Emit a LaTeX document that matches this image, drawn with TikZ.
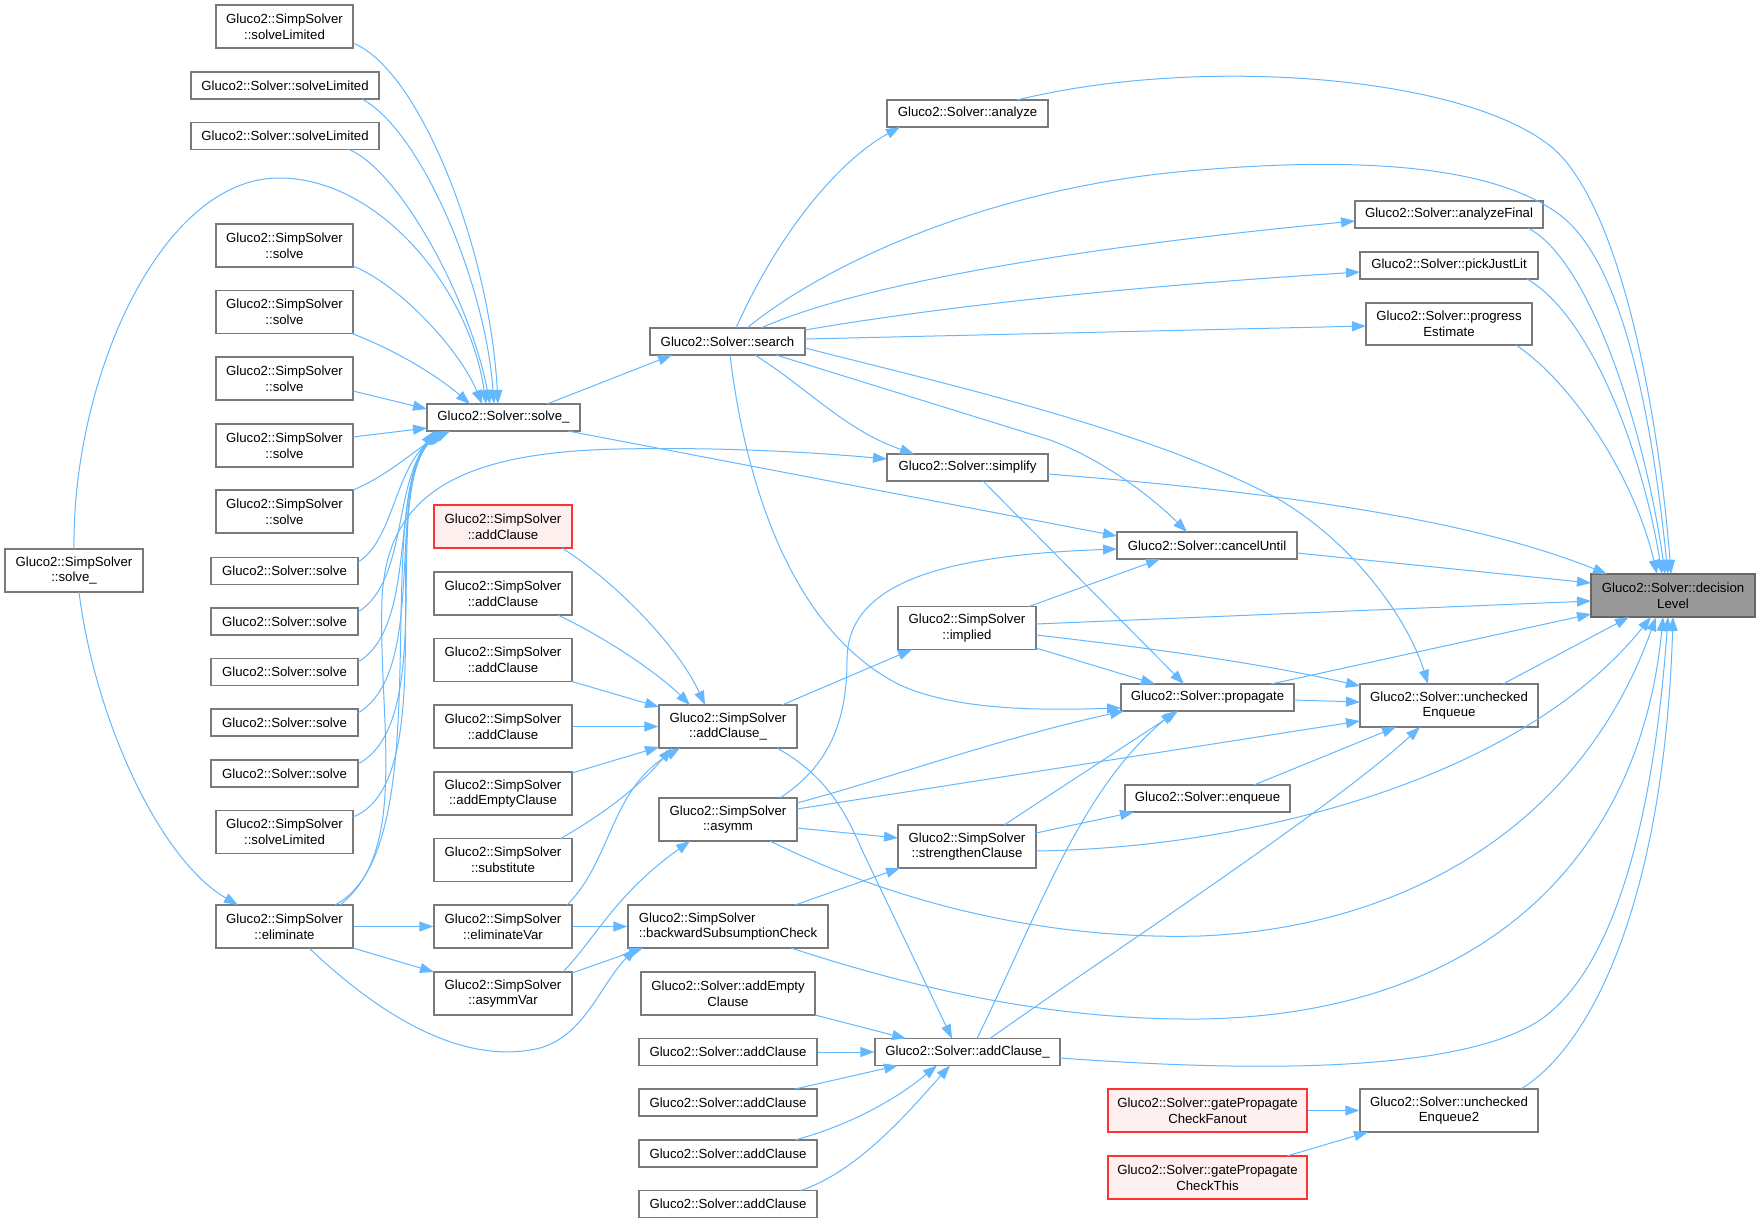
\documentclass[tikz,border=0pt]{standalone}
\usepackage{fontspec}
\setmainfont{Liberation Sans}
\usetikzlibrary{arrows.meta}
\definecolor{edgec}{HTML}{63B8FF}
\definecolor{bordc}{HTML}{7A7A7A}
\definecolor{redb}{HTML}{FF3333}
\definecolor{redf}{HTML}{FFF0F0}
\definecolor{dlf}{HTML}{999999}
\definecolor{dlb}{HTML}{666666}
\newcommand{\gfont}{\fontsize{13.2pt}{15.7pt}\selectfont}
\begin{document}
\begin{tikzpicture}[x=1pt,y=-1pt,
  box/.style={draw=bordc, fill=white, line width=1.3pt, inner sep=0pt, align=center, font=\gfont},
  redbox/.style={box, draw=redb, fill=redf},
  dlbox/.style={box, draw=dlb, fill=dlf},
  two/.style={minimum height=43pt},
  one/.style={minimum height=27pt},
  e/.style={draw=edgec, line width=1pt, -{Triangle[length=14pt,width=10pt]}}]
\fill[white] (0,0) rectangle (1760,1223);
\useasboundingbox (0,0) rectangle (1760,1223);
% left
\node[box,two,minimum width=138pt] (ssSolveU) at (74,570.5) {Gluco2::SimpSolver\\::solve\_};
% column 2
\node[box,two,minimum width=137pt] (ssSL1) at (284.5,26.5) {Gluco2::SimpSolver\\::solveLimited};
\node[box,one,minimum width=188pt] (sSL1) at (285,85.5) {Gluco2::Solver::solveLimited};
\node[box,one,minimum width=188pt] (sSL2) at (285,136) {Gluco2::Solver::solveLimited};
\node[box,two,minimum width=137pt] (ssS1) at (284.5,245.5) {Gluco2::SimpSolver\\::solve};
\node[box,two,minimum width=137pt] (ssS2) at (284.5,312) {Gluco2::SimpSolver\\::solve};
\node[box,two,minimum width=137pt] (ssS3) at (284.5,378.5) {Gluco2::SimpSolver\\::solve};
\node[box,two,minimum width=137pt] (ssS4) at (284.5,445.5) {Gluco2::SimpSolver\\::solve};
\node[box,two,minimum width=137pt] (ssS5) at (284.5,511.5) {Gluco2::SimpSolver\\::solve};
\node[box,one,minimum width=147pt] (sS1) at (284.5,571) {Gluco2::Solver::solve};
\node[box,one,minimum width=147pt] (sS2) at (284.5,621.5) {Gluco2::Solver::solve};
\node[box,one,minimum width=147pt] (sS3) at (284.5,672) {Gluco2::Solver::solve};
\node[box,one,minimum width=147pt] (sS4) at (284.5,722.5) {Gluco2::Solver::solve};
\node[box,one,minimum width=147pt] (sS5) at (284.5,773.5) {Gluco2::Solver::solve};
\node[box,two,minimum width=137pt] (ssSL2) at (284.5,832) {Gluco2::SimpSolver\\::solveLimited};
\node[box,two,minimum width=137pt] (ssElim) at (284.5,926.5) {Gluco2::SimpSolver\\::eliminate};
% column 3
\node[box,one,minimum width=153pt] (sSolveU) at (503.5,417.5) {Gluco2::Solver::solve\_};
\node[redbox,two,minimum width=138pt] (ssACr) at (503,526.5) {Gluco2::SimpSolver\\::addClause};
\node[box,two,minimum width=138pt] (ssAC2) at (503,593.5) {Gluco2::SimpSolver\\::addClause};
\node[box,two,minimum width=138pt] (ssAC3) at (503,660) {Gluco2::SimpSolver\\::addClause};
\node[box,two,minimum width=138pt] (ssAC4) at (503,726.5) {Gluco2::SimpSolver\\::addClause};
\node[box,two,minimum width=138pt] (ssAEC) at (503,793.5) {Gluco2::SimpSolver\\::addEmptyClause};
\node[box,two,minimum width=138pt] (ssSub) at (503,860) {Gluco2::SimpSolver\\::substitute};
\node[box,two,minimum width=138pt] (ssEV) at (503,926.5) {Gluco2::SimpSolver\\::eliminateVar};
\node[box,two,minimum width=138pt] (ssAV) at (503,993.5) {Gluco2::SimpSolver\\::asymmVar};
% column 4
\node[box,one,minimum width=155pt] (sSearch) at (727.5,341.5) {Gluco2::Solver::search};
\node[box,two,minimum width=138pt] (ssACU) at (728,726.5) {Gluco2::SimpSolver\\::addClause\_};
\node[box,two,minimum width=138pt] (ssAsym) at (728,819.5) {Gluco2::SimpSolver\\::asymm};
\node[box,two,minimum width=200pt,align=left] (ssBSC) at (728,926.5) {Gluco2::SimpSolver\\::backwardSubsumptionCheck};
\node[box,two,minimum width=174pt] (sAEC) at (728,993.5) {Gluco2::Solver::addEmpty\\Clause};
\node[box,one,minimum width=178pt] (sAC1) at (728,1052) {Gluco2::Solver::addClause};
\node[box,one,minimum width=178pt] (sAC2) at (728,1102.5) {Gluco2::Solver::addClause};
\node[box,one,minimum width=178pt] (sAC3) at (728,1153.5) {Gluco2::Solver::addClause};
\node[box,one,minimum width=178pt] (sAC4) at (728,1204) {Gluco2::Solver::addClause};
% column 5
\node[box,one,minimum width=161pt] (sAnalyze) at (967.5,113.5) {Gluco2::Solver::analyze};
\node[box,one,minimum width=161pt] (sSimplify) at (967.5,467.5) {Gluco2::Solver::simplify};
\node[box,two,minimum width=138pt] (ssImplied) at (967,628) {Gluco2::SimpSolver\\::implied};
\node[box,two,minimum width=138pt] (ssStr) at (967,846.5) {Gluco2::SimpSolver\\::strengthenClause};
\node[box,one,minimum width=185pt] (sACU) at (967.5,1052) {Gluco2::Solver::addClause\_};
% column 6
\node[box,one,minimum width=180pt] (sCancel) at (1207,545.5) {Gluco2::Solver::cancelUntil};
\node[box,one,minimum width=173pt] (sProp) at (1207.5,697.5) {Gluco2::Solver::propagate};
\node[box,one,minimum width=165pt] (sEnq) at (1207.5,798.5) {Gluco2::Solver::enqueue};
\node[redbox,two,minimum width=199pt] (gFan) at (1207.5,1110.5) {Gluco2::Solver::gatePropagate\\CheckFanout};
\node[redbox,two,minimum width=199pt] (gThis) at (1207.5,1177.5) {Gluco2::Solver::gatePropagate\\CheckThis};
% column 7
\node[box,one,minimum width=188pt] (sAF) at (1449,214.5) {Gluco2::Solver::analyzeFinal};
\node[box,one,minimum width=178pt] (sPJL) at (1449,265.5) {Gluco2::Solver::pickJustLit};
\node[box,minimum height=42pt,minimum width=166pt] (sPE) at (1449,324) {Gluco2::Solver::progress\\Estimate};
\node[box,two,minimum width=178pt] (sUE) at (1449,705.5) {Gluco2::Solver::unchecked\\Enqueue};
\node[box,two,minimum width=178pt] (sUE2) at (1449,1110.5) {Gluco2::Solver::unchecked\\Enqueue2};
% target
\node[dlbox,two,minimum width=164pt] (sDL) at (1673,595.5) {Gluco2::Solver::decision\\Level};

% edges into decisionLevel
\draw[e] ([shift={(49.5,-13.5)}]sAnalyze.center) .. controls (1200,55) and (1470,75) .. (1555,150) .. controls (1625,215) and (1660,430) .. ([shift={(-2,-21.5)}]sDL.center);
\draw[e] ([shift={(19.5,-13.5)}]sSearch.center) .. controls (830,260) and (1000,185) .. (1200,170) .. controls (1380,155) and (1500,170) .. (1560,215) .. controls (1630,268) and (1655,450) .. ([shift={(-5,-21.5)}]sDL.center);
\draw[e] ([shift={(79,13.5)}]sAF.center) .. controls (1590,260) and (1645,430) .. ([shift={(-8,-21.5)}]sDL.center);
\draw[e] ([shift={(78,13.5)}]sPJL.center) .. controls (1590,315) and (1642,450) .. ([shift={(-11,-21.5)}]sDL.center);
\draw[e] ([shift={(67,21)}]sPE.center) .. controls (1575,385) and (1635,480) .. ([shift={(-16,-21.5)}]sDL.center);
\draw[e] ([shift={(80.5,6.5)}]sSimplify.center) .. controls (1250,490) and (1460,515) .. ([shift={(-66,-21.5)}]sDL.center);
\draw[e] ([shift={(90,7.5)}]sCancel.center) -- ([shift={(-82,-12.5)}]sDL.center);
\draw[e] ([shift={(69,-4)}]ssImplied.center) -- ([shift={(-82,5.5)}]sDL.center);
\draw[e] ([shift={(63.5,-13.5)}]sProp.center) -- ([shift={(-82,18.5)}]sDL.center);
\draw[e] ([shift={(54,-21.5)}]sUE.center) -- ([shift={(-44,21.5)}]sDL.center);
\draw[e] ([shift={(69,4.5)}]ssStr.center) .. controls (1250,848) and (1520,780) .. ([shift={(-22,21.5)}]sDL.center);
\draw[e] ([shift={(42,21.5)}]ssAsym.center) .. controls (900,905) and (1050,940) .. (1200,936) .. controls (1400,928) and (1580,830) .. ([shift={(-17,21.5)}]sDL.center);
\draw[e] ([shift={(63,21.5)}]ssBSC.center) .. controls (950,1000) and (1080,1020) .. (1200,1019) .. controls (1480,1015) and (1640,860) .. ([shift={(-10,21.5)}]sDL.center);
\draw[e] ([shift={(92.5,6)}]sACU.center) .. controls (1200,1068) and (1450,1080) .. (1540,1020) .. controls (1620,965) and (1655,800) .. ([shift={(-5,21.5)}]sDL.center);
\draw[e] ([shift={(72,-21.5)}]sUE2.center) .. controls (1600,1040) and (1665,880) .. ([shift={(0,21.5)}]sDL.center);

% edges into solve_
\draw[e] ([shift={(68.5,16.5)}]ssSL1.center) .. controls (420,70) and (490,250) .. ([shift={(-5.5,-13.5)}]sSolveU.center);
\draw[e] ([shift={(77,13.5)}]sSL1.center) .. controls (420,130) and (485,280) .. ([shift={(-9.5,-13.5)}]sSolveU.center);
\draw[e] ([shift={(63,13)}]sSL2.center) .. controls (400,170) and (470,300) .. ([shift={(-13.5,-13.5)}]sSolveU.center);
\draw[e] ([shift={(0,-21.5)}]ssSolveU.center) .. controls (72,380) and (160,178) .. (279,178) .. controls (380,178) and (470,290) .. ([shift={(-17.5,-13.5)}]sSolveU.center);
\draw[e] ([shift={(68.5,20.5)}]ssS1.center) .. controls (400,285) and (460,350) .. ([shift={(-21.5,-13.5)}]sSolveU.center);
\draw[e] ([shift={(67.5,21.5)}]ssS2.center) .. controls (400,352) and (440,378) .. ([shift={(-33.5,-13.5)}]sSolveU.center);
\draw[e] ([shift={(68.5,12.5)}]ssS3.center) -- ([shift={(-76.5,-8.5)}]sSolveU.center);
\draw[e] ([shift={(68.5,-8.5)}]ssS4.center) -- ([shift={(-76.5,10.5)}]sSolveU.center);
\draw[e] ([shift={(68.5,-21.5)}]ssS5.center) .. controls (390,475) and (420,445) .. ([shift={(-53.5,13.5)}]sSolveU.center);
\draw[e] ([shift={(73.5,-9)}]sS1.center) .. controls (395,540) and (395,460) .. ([shift={(-56.5,13.5)}]sSolveU.center);
\draw[e] ([shift={(73.5,-9.5)}]sS2.center) .. controls (410,580) and (392,470) .. ([shift={(-59.5,13.5)}]sSolveU.center);
\draw[e] ([shift={(73.5,-10)}]sS3.center) .. controls (420,625) and (388,480) .. ([shift={(-61.5,13.5)}]sSolveU.center);
\draw[e] ([shift={(73.5,-9.5)}]sS4.center) .. controls (430,670) and (384,490) .. ([shift={(-63.5,13.5)}]sSolveU.center);
\draw[e] ([shift={(73.5,-9.5)}]sS5.center) .. controls (440,720) and (380,500) .. ([shift={(-65.5,13.5)}]sSolveU.center);
\draw[e] ([shift={(68.5,-15)}]ssSL2.center) .. controls (445,780) and (376,510) .. ([shift={(-67.5,13.5)}]sSolveU.center);
\draw[e] ([shift={(50.5,-21.5)}]ssElim.center) .. controls (440,850) and (372,520) .. ([shift={(-69.5,13.5)}]sSolveU.center);

\draw[e] ([shift={(43.5,-13.5)}]sSolveU.center) -- ([shift={(-55.5,13.5)}]sSearch.center);
\draw[e] ([shift={(64.5,13.5)}]sSolveU.center) -- ([shift={(-90,-9.5)}]sCancel.center);

% eliminate
\draw[e] ([shift={(5,21.5)}]ssSolveU.center) .. controls (95,720) and (160,860) .. ([shift={(-46.5,-21.5)}]ssElim.center);
\draw[e] ([shift={(55.5,-21.5)}]ssElim.center) .. controls (410,850) and (378,720) .. (382,600) .. controls (386,500) and (450,452) .. (620,449) .. controls (720,447) and (810,452) .. ([shift={(-80.5,-8.5)}]sSimplify.center);
\draw[e] (ssElim.east) -- (ssEV.west);
\draw[e] ([shift={(68.5,21.5)}]ssElim.center) -- ([shift={(-69,-21.5)}]ssAV.center);
\draw[e] ([shift={(24.5,21.5)}]ssElim.center) .. controls (390,1025) and (470,1065) .. (540,1048) .. controls (585,1035) and (600,985) .. ([shift={(-92,21.5)}]ssBSC.center);

% into SimpSolver::addClause_
\draw[e] ([shift={(59,21.5)}]ssACr.center) .. controls (620,585) and (680,650) .. ([shift={(-23,-21.5)}]ssACU.center);
\draw[e] ([shift={(55,21.5)}]ssAC2.center) .. controls (610,640) and (660,675) .. ([shift={(-38,-21.5)}]ssACU.center);
\draw[e] ([shift={(69,21.5)}]ssAC3.center) -- ([shift={(-69,-19.5)}]ssACU.center);
\draw[e] (ssAC4.east) -- (ssACU.west);
\draw[e] ([shift={(69,-20.5)}]ssAEC.center) -- ([shift={(-69,20.5)}]ssACU.center);
\draw[e] ([shift={(57,-21)}]ssSub.center) .. controls (610,810) and (640,785) .. ([shift={(-56,21.5)}]ssACU.center);
\draw[e] ([shift={(64,-21.5)}]ssEV.center) .. controls (612,860) and (610,790) .. ([shift={(-48,21.5)}]ssACU.center);

\draw[e] ([shift={(54,-21.5)}]ssACU.center) -- ([shift={(-55,21.5)}]ssImplied.center);
\draw[e] ([shift={(49,21.5)}]ssACU.center) .. controls (825,775) and (845,810) .. (862,850) -- ([shift={(-15.5,-13.5)}]sACU.center);

\draw[e] ([shift={(60,-21.5)}]ssAV.center) .. controls (598,935) and (615,895) .. ([shift={(-38,21.5)}]ssAsym.center);
\draw[e] (ssEV.east) -- (ssBSC.west);
\draw[e] ([shift={(69,-20.5)}]ssAV.center) -- ([shift={(-85,21.5)}]ssBSC.center);

\draw[e] ([shift={(69,8.5)}]ssAsym.center) -- ([shift={(-69,-8.5)}]ssStr.center);
\draw[e] ([shift={(67,-21.5)}]ssBSC.center) -- ([shift={(-67,21.5)}]ssStr.center);
\draw[e] ([shift={(69,-13.5)}]ssStr.center) -- ([shift={(-73.5,13.5)}]sEnq.center);

% into cancelUntil
\draw[e] ([shift={(52,-21.5)}]ssAsym.center) .. controls (830,765) and (847,720) .. (847,660) .. controls (847,580) and (950,555) .. ([shift={(-90,3.5)}]sCancel.center);
\draw[e] ([shift={(62,-21.5)}]ssImplied.center) -- ([shift={(-47,13.5)}]sCancel.center);
\draw[e] ([shift={(48.5,13.5)}]sSearch.center) -- (1050,440) .. controls (1110,462) and (1160,505) .. ([shift={(-20,-13.5)}]sCancel.center);

% into propagate
\draw[e] ([shift={(15.5,13.5)}]sSimplify.center) -- ([shift={(-23.5,-13.5)}]sProp.center);
\draw[e] ([shift={(69,20)}]ssImplied.center) -- ([shift={(-52.5,-13.5)}]sProp.center);
\draw[e] ([shift={(69,-16.5)}]ssAsym.center) .. controls (900,775) and (1000,738) .. ([shift={(-83.5,13.5)}]sProp.center);
\draw[e] ([shift={(37,-21.5)}]ssStr.center) -- ([shift={(-29.5,13.5)}]sProp.center);
\draw[e] ([shift={(9.5,-13.5)}]sACU.center) .. controls (1040,910) and (1080,790) .. ([shift={(-32.5,13.5)}]sProp.center);
\draw[e] ([shift={(2.5,13.5)}]sSearch.center) .. controls (745,480) and (790,630) .. (900,685) .. controls (960,712) and (1050,710) .. ([shift={(-86.5,10.5)}]sProp.center);

% into uncheckedEnqueue
\draw[e] ([shift={(77.5,6.5)}]sSearch.center) .. controls (950,385) and (1150,430) .. (1280,500) .. controls (1360,548) and (1410,625) .. ([shift={(-21,-21.5)}]sUE.center);
\draw[e] ([shift={(69,7)}]ssImplied.center) .. controls (1150,648) and (1260,663) .. ([shift={(-89,-19.5)}]sUE.center);
\draw[e] ([shift={(86.5,2.5)}]sProp.center) -- ([shift={(-89,-3.5)}]sUE.center);
\draw[e] ([shift={(69,-10.5)}]ssAsym.center) -- ([shift={(-89,15.5)}]sUE.center);
\draw[e] ([shift={(46.5,-13.5)}]sEnq.center) -- ([shift={(-53,21.5)}]sUE.center);
\draw[e] ([shift={(22.5,-13.5)}]sACU.center) .. controls (1100,960) and (1330,810) .. ([shift={(-29,21.5)}]sUE.center);

% from search
\draw[e] ([shift={(8.5,-13.5)}]sSearch.center) .. controls (780,230) and (840,160) .. ([shift={(-67.5,13.5)}]sAnalyze.center);
\draw[e] ([shift={(33.5,-13.5)}]sSearch.center) .. controls (850,288) and (1050,250) .. ([shift={(-94,6.5)}]sAF.center);
\draw[e] ([shift={(77.5,-11.5)}]sSearch.center) .. controls (950,305) and (1150,285) .. ([shift={(-89,6.5)}]sPJL.center);
\draw[e] ([shift={(77.5,-2.5)}]sSearch.center) -- ([shift={(-83,2)}]sPE.center);
\draw[e] ([shift={(27.5,13.5)}]sSearch.center) .. controls (810,390) and (845,430) .. ([shift={(-53.5,-13.5)}]sSimplify.center);

% into Solver::addClause_
\draw[e] ([shift={(87,21.5)}]sAEC.center) -- ([shift={(-61.5,-13.5)}]sACU.center);
\draw[e] (sAC1.east) -- (sACU.west);
\draw[e] ([shift={(67,-13.5)}]sAC2.center) -- ([shift={(-69.5,13.5)}]sACU.center);
\draw[e] ([shift={(67,-13.5)}]sAC3.center) .. controls (850,1125) and (895,1100) .. ([shift={(-30.5,13.5)}]sACU.center);
\draw[e] ([shift={(73,-13.5)}]sAC4.center) .. controls (860,1170) and (910,1110) .. ([shift={(-17.5,13.5)}]sACU.center);

% into uncheckedEnqueue2
\draw[e] (gFan.east) -- (sUE2.west);
\draw[e] ([shift={(79.5,-21.5)}]gThis.center) -- ([shift={(-81,21.5)}]sUE2.center);
\end{tikzpicture}
\end{document}
